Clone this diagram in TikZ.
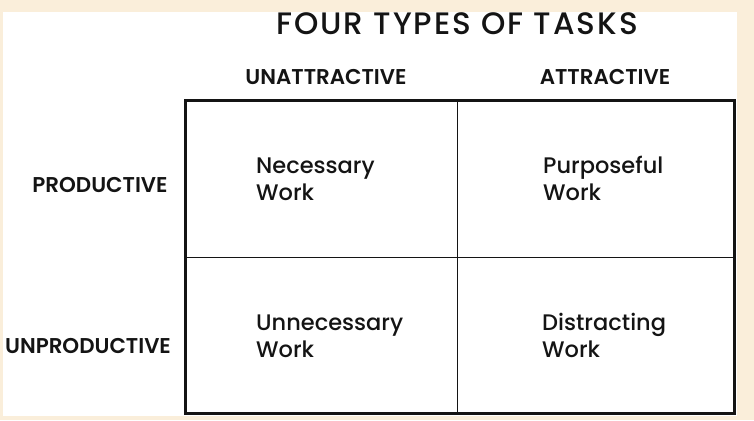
\documentclass[tikz,border=0pt]{standalone}
\usepackage{fontspec}
\setmainfont{Poppins}
\newfontfamily\medfont{Poppins Medium}
\newfontfamily\titlefont[LetterSpace=6.5]{Poppins Medium}
\newfontfamily\semifont{Poppins SemiBold}
\definecolor{cream}{RGB}{250,238,218}
\definecolor{ink}{RGB}{20,20,20}
\begin{document}
\begin{tikzpicture}[x=1pt,y=-1pt,
  heading/.style={font=\titlefont\fontsize{31}{36}\selectfont, text=ink, inner sep=0pt, anchor=base},
  axislabel/.style={font=\semifont\fontsize{21.4}{24}\selectfont, text=ink, inner sep=0pt, anchor=base},
  celltext/.style={font=\medfont\fontsize{22.5}{27}\selectfont, text=ink, inner sep=0pt, align=left, anchor=base west},
  frame/.style={draw=ink, line width=3pt},
  divider/.style={draw=ink, line width=1pt}]
  % page and card
  \useasboundingbox (0,0) rectangle (754,420);
  \fill[cream] (0,0) rectangle (754,420);
  \fill[white] (3,12) rectangle (737,416);

  % grid corners and dividers
  \coordinate (nw) at (185,100);
  \coordinate (se) at (734,413);
  \coordinate (vtop) at (457,100);
  \coordinate (vbot) at (457,413);
  \coordinate (hl) at (185,257);
  \coordinate (hr) at (734,257);
  \draw[divider] (vtop) -- (vbot);
  \draw[divider] (hl) -- (hr);
  \draw[frame] (nw) rectangle (se);

  % headings
  \node[heading] (title) at (457,35) {FOUR TYPES OF TASKS};
  \node[axislabel] (unattr) at (326,84) {UNATTRACTIVE};
  \node[axislabel] (attr) at (605,84) {ATTRACTIVE};
  \node[axislabel] (prod) at (100,192) {PRODUCTIVE};
  \node[axislabel] (unprod) at (88,353) {UNPRODUCTIVE};

  % quadrant texts (anchored at the baseline of the last line)
  \node[celltext] (necessary) at (256,200) {Necessary\\Work};
  \node[celltext] (purposeful) at (543,200) {Purposeful\\Work};
  \node[celltext] (unnecessary) at (256,357) {Unnecessary\\Work};
  \node[celltext] (distracting) at (542,357) {Distracting\\Work};
\end{tikzpicture}
\end{document}
